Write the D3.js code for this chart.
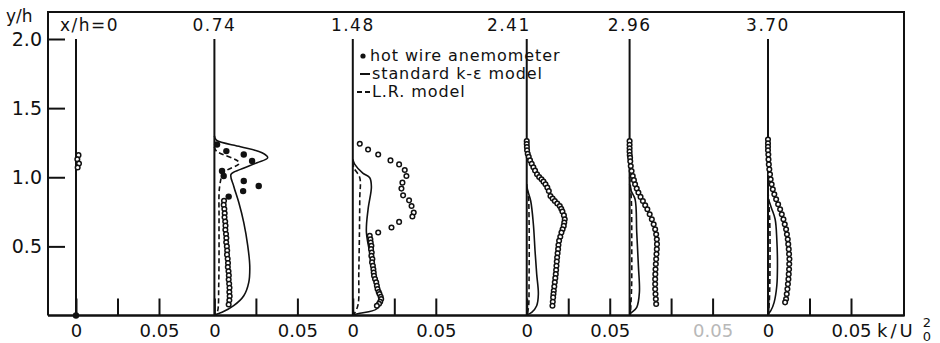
<!DOCTYPE html>
<html>
<head>
<meta charset="utf-8">
<script src="https://cdn.jsdelivr.net/npm/d3@7"></script>
<style>
  body { margin: 0; background: #fff; }
  svg { display: block; font-family: "DejaVu Sans", sans-serif; }
  text { fill: #111; }
</style>
</head>
<body>
<svg id="chart" width="940" height="343"></svg>
<script>
// measuring stations x/h and their header labels
const stations = [0, 0.74, 1.48, 2.41, 2.96, 3.70]
const stationLabels = ['x/h=0', '0.74', '1.48', '2.41', '2.96', '3.70']
const yTicks = [0.5, 1.0, 1.5, 2.0]
const kTicks = [0, 0.025, 0.05]
const zeroLabels = ['0', '0', '0', '0', '', '0']
const halfLabels = ['0.05', '0.05', '0.05', '0.05', '0.05', '0.05']
const legendItems = ['hot wire anemometer', 'standard k-ε model', 'L.R. model']

// hot wire data, [k/U0^2, y/h]
const hotWire0 = [[0.0015, 1.16], [0.0008, 1.13], [0.0018, 1.10], [0.001, 1.07]]
const hotWire0Filled = [[0, 0]]
const hotWire074Filled = [[0.0016, 1.237], [0.0072, 1.189], [0.0177, 1.165], [0.0227, 1.117], [0.0046, 1.045],
  [0.0056, 1.009], [0.0177, 0.973], [0.0267, 0.937], [0.0173, 0.900], [0.0086, 0.860]]
const hotWire074 = [[0.0058, 0.83], [0.0056, 0.80], [0.0060, 0.77], [0.0062, 0.74], [0.0061, 0.71], [0.0065, 0.68],
  [0.0067, 0.65], [0.0066, 0.62], [0.0070, 0.59], [0.0072, 0.56], [0.0071, 0.53], [0.0075, 0.50], [0.0077, 0.47],
  [0.0076, 0.44], [0.0080, 0.41], [0.0082, 0.38], [0.0081, 0.35], [0.0085, 0.32], [0.0087, 0.29], [0.0086, 0.26],
  [0.0089, 0.23], [0.0091, 0.20], [0.0090, 0.17], [0.0092, 0.14], [0.0090, 0.11], [0.0086, 0.08]]
const hotWire148 = [[0.0042, 1.242], [0.0092, 1.201], [0.0153, 1.165], [0.0227, 1.122], [0.0279, 1.093],
  [0.0313, 1.052], [0.0323, 1.009], [0.0299, 0.961], [0.0293, 0.918], [0.0303, 0.869], [0.0339, 0.833],
  [0.0354, 0.792], [0.0367, 0.745], [0.0359, 0.716], [0.0279, 0.677], [0.0233, 0.636], [0.0153, 0.600],
  [0.0102, 0.576], [0.0106, 0.552], [0.0108, 0.528], [0.0112, 0.504], [0.0110, 0.480], [0.0114, 0.455],
  [0.0112, 0.431], [0.0118, 0.408], [0.0116, 0.384], [0.0121, 0.360], [0.0124, 0.335], [0.0126, 0.311],
  [0.0128, 0.287], [0.0134, 0.264], [0.0141, 0.240], [0.0145, 0.215], [0.0149, 0.191], [0.0156, 0.170],
  [0.0161, 0.155], [0.0168, 0.135], [0.0171, 0.119], [0.0165, 0.100], [0.0158, 0.085], [0.0145, 0.071]]
const hotWire241 = [[0.0000, 1.261], [0.0000, 1.240], [0.0001, 1.218], [0.0002, 1.195], [0.0006, 1.170],
  [0.0012, 1.148], [0.0020, 1.122], [0.0030, 1.098], [0.0040, 1.072], [0.0050, 1.048], [0.0062, 1.021],
  [0.0075, 1.002], [0.0089, 0.985], [0.0101, 0.968], [0.0113, 0.949], [0.0124, 0.925], [0.0133, 0.901],
  [0.0143, 0.864], [0.0156, 0.846], [0.0169, 0.828], [0.0184, 0.810], [0.0199, 0.792], [0.0208, 0.772],
  [0.0215, 0.752], [0.0224, 0.724], [0.0229, 0.696], [0.0226, 0.672], [0.0223, 0.648], [0.0216, 0.624],
  [0.0209, 0.600], [0.0202, 0.570], [0.0195, 0.540], [0.0191, 0.510], [0.0189, 0.480], [0.0186, 0.450],
  [0.0183, 0.420], [0.0181, 0.390], [0.0179, 0.359], [0.0177, 0.329], [0.0175, 0.299], [0.0172, 0.270],
  [0.0169, 0.240], [0.0166, 0.210], [0.0163, 0.179], [0.0161, 0.155], [0.0159, 0.131], [0.0157, 0.100],
  [0.0155, 0.071]]
const hotWire296 = [[0, 1.261], [0, 1.235], [0, 1.210], [0, 1.185], [0.0001, 1.160], [0.0003, 1.141],
  [0.0004, 1.115], [0.0007, 1.081], [0.0012, 1.045], [0.0019, 1.009], [0.0026, 0.979], [0.0033, 0.949],
  [0.0043, 0.919], [0.0053, 0.889], [0.0066, 0.858], [0.0080, 0.828], [0.0094, 0.798], [0.0107, 0.768],
  [0.0121, 0.732], [0.0134, 0.696], [0.0145, 0.660], [0.0154, 0.624], [0.0160, 0.588], [0.0164, 0.552],
  [0.0165, 0.516], [0.0164, 0.480], [0.0162, 0.444], [0.0160, 0.408], [0.0158, 0.372], [0.0156, 0.335],
  [0.0155, 0.299], [0.0154, 0.263], [0.0154, 0.227], [0.0154, 0.191], [0.0156, 0.155], [0.0158, 0.119],
  [0.0160, 0.083]]
const hotWire370 = [[0, 1.273], [0, 1.245], [0, 1.220], [0, 1.195], [0.0002, 1.165], [0.0003, 1.129],
  [0.0005, 1.093], [0.0008, 1.057], [0.0012, 1.021], [0.0016, 0.985], [0.0022, 0.949], [0.0029, 0.913],
  [0.0038, 0.877], [0.0049, 0.841], [0.0061, 0.805], [0.0073, 0.768], [0.0083, 0.732], [0.0093, 0.696],
  [0.0101, 0.660], [0.0109, 0.624], [0.0114, 0.588], [0.0119, 0.552], [0.0122, 0.516], [0.0125, 0.480],
  [0.0127, 0.444], [0.0129, 0.408], [0.0128, 0.372], [0.0127, 0.335], [0.0125, 0.299], [0.0123, 0.263],
  [0.0120, 0.227], [0.0117, 0.191], [0.0113, 0.155], [0.0109, 0.119], [0.0103, 0.095]]

// standard k-eps model
const kEps074 = [[0, 1.30], [0.0012, 1.268], [0.0157, 1.221], [0.0287, 1.177], [0.0321, 1.141], [0.0257, 1.105],
  [0.0157, 1.057], [0.0100, 1.021], [0.0116, 0.937], [0.0147, 0.817], [0.0177, 0.672], [0.0201, 0.504],
  [0.0213, 0.359], [0.0207, 0.240], [0.0177, 0.143], [0.0116, 0.071], [0.0046, 0.023], [0.0012, 0.009], [0, 0]]
const kEps148 = [[0, 1.13], [0.0012, 1.093], [0.0060, 1.030], [0.0102, 0.996], [0.0112, 0.931], [0.0092, 0.768],
  [0.0082, 0.600], [0.0112, 0.408], [0.0153, 0.215], [0.0173, 0.119], [0.0143, 0.047], [0.0042, 0.016], [0, 0.005]]
const kEps241 = [[0, 0.95], [0.0004, 0.913], [0.0024, 0.828], [0.0040, 0.660], [0.0050, 0.468], [0.0060, 0.299],
  [0.0070, 0.155], [0.0060, 0.071], [0.0030, 0.023], [0, 0.005]]
const kEps296 = [[0, 0.95], [0.0010, 0.90], [0.0033, 0.841], [0.0043, 0.600], [0.0053, 0.359], [0.0059, 0.167],
  [0.0043, 0.059], [0.0013, 0.023], [0, 0.01]]
const kEps370 = [[0, 0.85], [0.0020, 0.78], [0.0043, 0.696], [0.0053, 0.552], [0.0057, 0.359], [0.0053, 0.215],
  [0.0037, 0.095], [0.0017, 0.035], [0, 0.01]]

// low Reynolds number model
const lowRe074 = [[0, 1.22], [0.0012, 1.189], [0.0150, 1.104], [0.0056, 1.033], [0.0032, 0.937], [0.0028, 0.696],
  [0.0028, 0.456], [0.0026, 0.215], [0.002, 0.035], [0.0008, 0.005]]
const lowRe148 = [[0, 1.11], [0.0006, 1.069], [0.0042, 0.997], [0.0042, 0.85], [0.0040, 0.60], [0.0036, 0.30],
  [0.0032, 0.08], [0.0012, 0.02], [0, 0.005]]
const lowRe241 = [[0, 0.92], [0.0010, 0.86], [0.0014, 0.70], [0.0015, 0.50], [0.0014, 0.25], [0.0012, 0.08],
  [0.0004, 0.01]]
const lowRe296 = [[0, 1.0], [0.0010, 0.85], [0.0013, 0.50], [0.0012, 0.20], [0.0005, 0.02]]
const lowRe370 = [[0, 0.9], [0.0010, 0.7], [0.0012, 0.4], [0.0008, 0.1], [0.0002, 0.01]]

const profiles = [
  { s: 0, open: hotWire0, filled: hotWire0Filled, ke: [], lr: [] },
  { s: 0.74, open: hotWire074, filled: hotWire074Filled, ke: kEps074, lr: lowRe074 },
  { s: 1.48, open: hotWire148, filled: [], ke: kEps148, lr: lowRe148 },
  { s: 2.41, open: hotWire241, filled: [], ke: kEps241, lr: lowRe241 },
  { s: 2.96, open: hotWire296, filled: [], ke: kEps296, lr: lowRe296 },
  { s: 3.70, open: hotWire370, filled: [], ke: kEps370, lr: lowRe370 }
]

const svg = d3.select('#chart')
const box = { left: 48, right: 904, top: 12, bottom: 315.5 }

const y = d3.scaleLinear().domain([0, 2]).range([box.bottom, 39])
const xStation = d3.scaleLinear().domain([0, 3.7]).range([76, 768])
const k = d3.scaleLinear().domain([0, 0.05]).range([0, 83])

// frame
svg.append('path')
  .attr('d', `M${box.left},${box.bottom}V${box.top}H${box.right}V${box.bottom}H${box.left}`)
  .attr('fill', 'none')
  .attr('stroke', '#111')
  .attr('stroke-width', 2)

// y axis, ticks pointing inwards
const yAxis = svg.append('g')
  .attr('transform', `translate(${box.left},0)`)
  .call(d3.axisLeft(y).tickValues(yTicks).tickSize(-17).tickPadding(6).tickFormat(d3.format('.1f')))
yAxis.select('.domain').remove()
yAxis.selectAll('line').attr('stroke', '#111').attr('stroke-width', 2)
yAxis.selectAll('text')
  .attr('font-size', 19)
  .attr('font-family', '"DejaVu Sans", sans-serif')
  .attr('fill', '#111')

svg.append('text')
  .attr('x', 6).attr('y', 22)
  .attr('font-size', 17)
  .text('y/h')

// each station: zero line, small axis, header
profiles.forEach((p, i) => {
  const x0 = xStation(p.s)
  const g = svg.append('g').attr('transform', `translate(${x0},0)`)

  g.append('line')
    .attr('x1', 0).attr('x2', 0)
    .attr('y1', y(2)).attr('y2', y(0))
    .attr('stroke', '#111').attr('stroke-width', 2)

  const ax = g.append('g')
    .attr('transform', `translate(0,${box.bottom})`)
    .call(d3.axisBottom(k).tickValues(kTicks).tickSize(-17).tickPadding(9)
      .tickFormat(d => d === 0 ? zeroLabels[i] : d === 0.05 ? halfLabels[i] : ''))
  ax.select('.domain').remove()
  ax.selectAll('line').attr('stroke', '#111').attr('stroke-width', 2)
  ax.selectAll('text')
    .attr('font-size', 18)
    .attr('font-family', '"DejaVu Sans", sans-serif')
    .style('fill', (d) => (i === 4 && d === 0.05) ? '#b8b8b8' : '#111')

  const head = g.append('text')
    .attr('y', 31)
    .attr('font-size', 17)
    .attr('letter-spacing', 1.5)
    .text(stationLabels[i])
  if (i === 0) head.attr('x', -16)
  else if (i === 3) head.attr('x', 4).attr('text-anchor', 'end')
  else head.attr('x', 0).attr('text-anchor', 'middle')

  const line = d3.line()
    .x(d => k(d[0]))
    .y(d => y(d[1]))
    .curve(d3.curveCatmullRom.alpha(0.5))

  if (p.ke.length) {
    g.append('path').datum(p.ke)
      .attr('d', line)
      .attr('fill', 'none').attr('stroke', '#111').attr('stroke-width', 1.6)
  }
  if (p.lr.length) {
    g.append('path').datum(p.lr)
      .attr('d', line)
      .attr('fill', 'none').attr('stroke', '#111').attr('stroke-width', 1.6)
      .attr('stroke-dasharray', '5,3')
  }

  g.selectAll('circle.open').data(p.open).join('circle')
    .attr('class', 'open')
    .attr('cx', d => k(d[0]))
    .attr('cy', d => y(d[1]))
    .attr('r', 2.3)
    .attr('fill', '#fff').attr('stroke', '#111').attr('stroke-width', 1.5)

  g.selectAll('circle.filled').data(p.filled).join('circle')
    .attr('class', 'filled')
    .attr('cx', d => k(d[0]))
    .attr('cy', d => y(d[1]))
    .attr('r', 3.2)
    .attr('fill', '#111')
})

// bottom axis line over the foot of the zero lines
svg.append('line')
  .attr('x1', box.left).attr('x2', box.right)
  .attr('y1', box.bottom).attr('y2', box.bottom)
  .attr('stroke', '#111').attr('stroke-width', 2)

// k/U0^2 unit label
const unitX = xStation(3.7) + k(0.05) + 26
svg.append('text').attr('x', unitX).attr('y', 337).attr('font-size', 18).attr('letter-spacing', 3).text('k/U')
svg.append('text').attr('x', unitX + 50).attr('y', 327).attr('font-size', 13).attr('text-anchor', 'middle').text('2')
svg.append('text').attr('x', unitX + 50).attr('y', 341).attr('font-size', 13).attr('text-anchor', 'middle').text('0')

// legend
const legend = svg.append('g').attr('transform', 'translate(358,0)')
legendItems.forEach((t, i) => {
  const cy = 56 + i * 18
  if (i === 0) {
    legend.append('circle').attr('cx', 5).attr('cy', cy).attr('r', 2.6).attr('fill', '#111')
  } else {
    legend.append('line')
      .attr('x1', i === 1 ? 2 : -1).attr('x2', 12)
      .attr('y1', cy).attr('y2', cy)
      .attr('stroke', '#111').attr('stroke-width', 2)
      .attr('stroke-dasharray', i === 2 ? '5,3' : null)
  }
  legend.append('text')
    .attr('x', i === 0 ? 12 : 14)
    .attr('y', cy + 5)
    .attr('font-size', 16)
    .attr('letter-spacing', 0.9)
    .text(t)
})
</script>
</body>
</html>
